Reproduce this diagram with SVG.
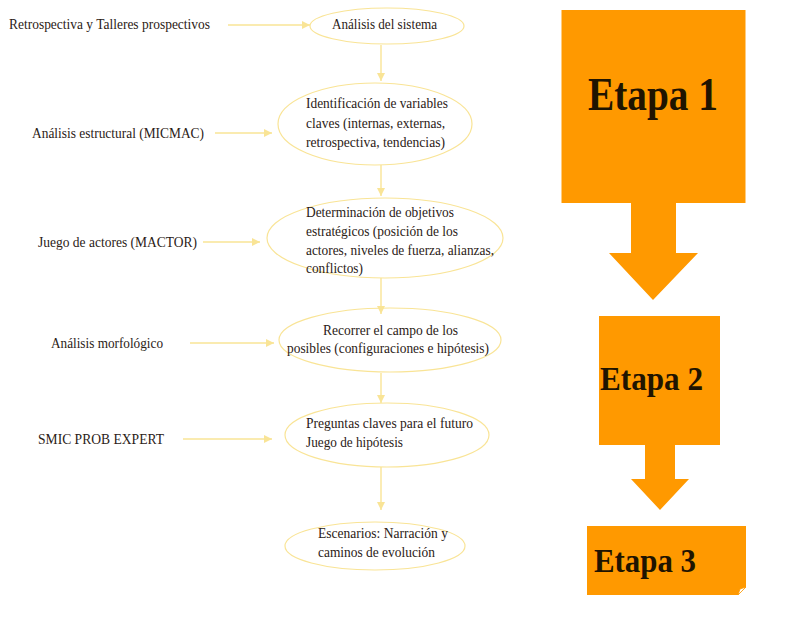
<svg xmlns="http://www.w3.org/2000/svg" width="801" height="620" viewBox="0 0 801 620">
<style>
.t{font-family:"Liberation Serif","Times New Roman",serif;font-size:14.5px;fill:#2b2116}
.e{fill:none;stroke:#F9E496;stroke-width:1.2}
.l{stroke:#F9E496;stroke-width:1.4;fill:none;marker-end:url(#ah)}
.o{fill:#FF9900}
.big{font-family:"Liberation Serif","Times New Roman",serif;font-weight:bold;fill:#1f1400}
</style>
<defs>
<marker id="ah" viewBox="0 0 10 10" refX="10" refY="5" markerWidth="8" markerHeight="8" markerUnits="userSpaceOnUse" orient="auto">
<path d="M0,0 L10,5 L0,10 Z" fill="#F9E496"/>
</marker>
</defs>
<rect width="801" height="620" fill="#fff"/>

<g id="connectors">
<line class="l" x1="228" y1="25" x2="310" y2="25"/>
<line class="l" x1="215" y1="133" x2="272" y2="133"/>
<line class="l" x1="203" y1="242" x2="260" y2="242"/>
<line class="l" x1="190" y1="343" x2="274" y2="343"/>
<line class="l" x1="183" y1="439" x2="272" y2="439"/>
<line class="l" x1="381" y1="45" x2="381" y2="81"/>
<line class="l" x1="381" y1="165" x2="381" y2="196"/>
<line class="l" x1="381" y1="278" x2="381" y2="314"/>
<line class="l" x1="381" y1="373" x2="381" y2="403"/>
<line class="l" x1="381" y1="467" x2="381" y2="510"/>
</g>

<g id="lbl1"><text class="t" x="9" y="29" textLength="201" lengthAdjust="spacingAndGlyphs">Retrospectiva y Talleres  prospectivos</text></g>
<g id="lbl2"><text class="t" x="32" y="138" textLength="172" lengthAdjust="spacingAndGlyphs">Análisis estructural (MICMAC)</text></g>
<g id="lbl3"><text class="t" x="38" y="247" textLength="159" lengthAdjust="spacingAndGlyphs">Juego de actores (MACTOR)</text></g>
<g id="lbl4"><text class="t" x="51" y="348" textLength="112" lengthAdjust="spacingAndGlyphs">Análisis morfológico</text></g>
<g id="lbl5"><text class="t" x="38" y="444" textLength="126" lengthAdjust="spacingAndGlyphs">SMIC PROB EXPERT</text></g>

<g id="n1">
<ellipse class="e" cx="387" cy="26" rx="77" ry="18"/>
<text class="t" x="332" y="29" textLength="105" lengthAdjust="spacingAndGlyphs">Análisis del sistema</text>
</g>
<g id="n2">
<ellipse class="e" cx="375" cy="124" rx="97" ry="41"/>
<text class="t" x="306" y="108" textLength="142" lengthAdjust="spacingAndGlyphs">Identificación de variables</text>
<text class="t" x="306" y="128" textLength="139" lengthAdjust="spacingAndGlyphs">claves (internas, externas,</text>
<text class="t" x="306" y="147" textLength="139" lengthAdjust="spacingAndGlyphs">retrospectiva, tendencias)</text>
</g>
<g id="n3">
<ellipse class="e" cx="385" cy="238" rx="118" ry="40"/>
<text class="t" x="306" y="217" textLength="148" lengthAdjust="spacingAndGlyphs">Determinación de objetivos</text>
<text class="t" x="306" y="236" textLength="152" lengthAdjust="spacingAndGlyphs">estratégicos (posición de los</text>
<text class="t" x="306" y="255" textLength="188" lengthAdjust="spacingAndGlyphs">actores, niveles de fuerza, alianzas,</text>
<text class="t" x="306" y="273" textLength="57" lengthAdjust="spacingAndGlyphs">conflictos)</text>
</g>
<g id="n4">
<ellipse class="e" cx="390" cy="340" rx="111" ry="32"/>
<text class="t" x="323" y="335" textLength="135" lengthAdjust="spacingAndGlyphs">Recorrer el campo de los</text>
<text class="t" x="287" y="353" textLength="202" lengthAdjust="spacingAndGlyphs">posibles (configuraciones e hipótesis)</text>
</g>
<g id="n5">
<ellipse class="e" cx="387" cy="435" rx="102" ry="32"/>
<text class="t" x="306" y="428" textLength="167" lengthAdjust="spacingAndGlyphs">Preguntas claves para el futuro</text>
<text class="t" x="306" y="447" textLength="97" lengthAdjust="spacingAndGlyphs">Juego de hipótesis</text>
</g>
<g id="n6">
<ellipse class="e" cx="375" cy="546" rx="90" ry="24"/>
<text class="t" x="318" y="538" textLength="130" lengthAdjust="spacingAndGlyphs">Escenarios: Narración y</text>
<text class="t" x="318" y="557" textLength="117" lengthAdjust="spacingAndGlyphs">caminos de evolución</text>
</g>

<g id="etapa1">
<path class="o" d="M561.5,10 H745.5 V203 H676 V253 H698 L653,300 L609,253 H631 V203 H561.5 Z"/>
<text class="big" x="588" y="110" font-size="46" textLength="130" lengthAdjust="spacingAndGlyphs">Etapa 1</text>
</g>
<g id="etapa2">
<path class="o" d="M599,316 H720 V445 H675 V479 H689 L660,510 L631,479 H645 V445 H599 Z"/>
<text class="big" x="600" y="390" font-size="34" textLength="103" lengthAdjust="spacingAndGlyphs">Etapa 2</text>
</g>
<g id="etapa3">
<path class="o" d="M587,526 H746 V587 L738,595 H587 Z"/>
<path d="M738,595 L740,589 L746,587 Z" fill="#fff" stroke="#FF9900" stroke-width="0.8"/>
<text class="big" x="594" y="572" font-size="34" textLength="102" lengthAdjust="spacingAndGlyphs">Etapa 3</text>
</g>
</svg>
